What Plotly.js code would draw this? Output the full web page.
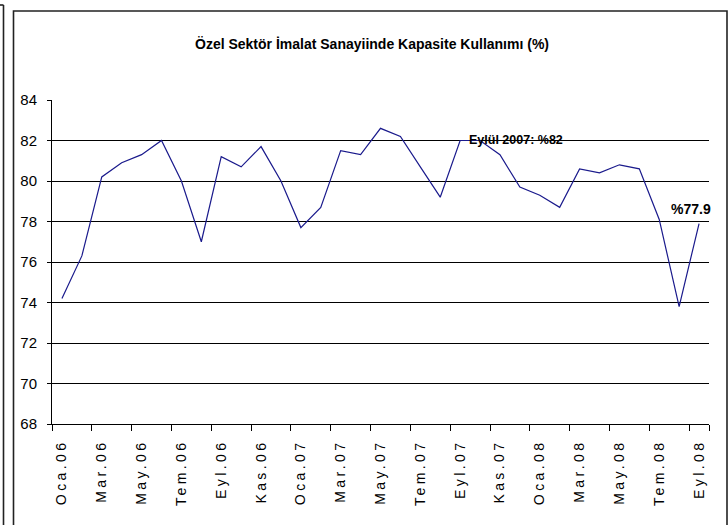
<!DOCTYPE html>
<html>
<head>
<meta charset="utf-8">
<script src="https://cdn.plot.ly/plotly-3.0.1.min.js"></script>
<style>
html,body{margin:0;padding:0;background:#fff;}
#chart{width:728px;height:525px;}
.xtick text{letter-spacing:3.4px;}
</style>
</head>
<body>
<div id="chart"></div>
<script>
const months = ["Oca.06","Şub.06","Mar.06","Nis.06","May.06","Haz.06","Tem.06","Ağu.06","Eyl.06","Eki.06","Kas.06","Ara.06",
"Oca.07","Şub.07","Mar.07","Nis.07","May.07","Haz.07","Tem.07","Ağu.07","Eyl.07","Eki.07","Kas.07","Ara.07",
"Oca.08","Şub.08","Mar.08","Nis.08","May.08","Haz.08","Tem.08","Ağu.08","Eyl.08"];
const capacity = [74.2,76.3,80.2,80.9,81.3,82.0,80.0,77.0,81.2,80.7,81.7,80.0,
77.7,78.7,81.5,81.3,82.6,82.2,80.7,79.2,82.0,82.0,81.3,79.7,
79.3,78.7,80.6,80.4,80.8,80.6,78.1,73.8,77.9];
const tickLabels = months.filter((m,i)=>i%2===0);
const titleText = "Özel Sektör İmalat Sanayiinde Kapasite Kullanımı (%)";
const noteSept07 = "Eylül 2007: %82";
const noteLast = "%77.9";

const W=728,H=525,L=52,R=19,T=100,B=101;
const pw=W-L-R, ph=H-T-B;
const px=(x)=>(x-L)/pw;
const py=(y)=>(H-B-y)/ph;
const font='"Liberation Sans", Arial, sans-serif';
const frameLine={color:'#222',width:1.6};

const data=[{
  type:'scatter',mode:'lines',x:months,y:capacity,
  line:{color:'#1a1a8c',width:1.2},hoverinfo:'x+y'
}];

const layout={
  width:W,height:H,
  margin:{l:L,r:R,t:T,b:B,pad:0},
  paper_bgcolor:'#fff',plot_bgcolor:'#fff',
  showlegend:false,
  title:{text:'<b>'+titleText+'</b>',x:(372)/W,xanchor:'center',y:1-44/H,yanchor:'middle',
    font:{family:font,size:14,color:'#000'}},
  xaxis:{type:'category',tickmode:'array',tickvals:tickLabels,ticktext:tickLabels,
    tickson:'boundaries',ticks:'outside',ticklen:6,tickcolor:'#000',tickwidth:1,
    tickangle:-90,ticklabelstandoff:9,
    showline:true,linecolor:'#000',linewidth:1,showgrid:false,zeroline:false,
    range:[-0.5,32.5],
    tickfont:{family:font,size:14,color:'#000'}},
  yaxis:{range:[68,84],tickmode:'linear',tick0:68,dtick:2,
    ticks:'outside',ticklen:4,tickcolor:'#000',tickwidth:1,ticklabelstandoff:7,
    showline:true,linecolor:'#000',linewidth:1,
    showgrid:true,gridcolor:'#000',gridwidth:1,zeroline:false,
    tickfont:{family:font,size:15,color:'#000'}},
  annotations:[
    {x:months[20],y:capacity[20],xref:'x',yref:'y',text:'<b>'+noteSept07+'</b>',showarrow:false,
     xanchor:'left',yanchor:'middle',xshift:7,yshift:1,font:{family:font,size:12.5,color:'#000'}},
    {x:months[32],y:capacity[32],xref:'x',yref:'y',text:'<b>'+noteLast+'</b>',showarrow:false,
     xanchor:'center',yanchor:'bottom',xshift:-8,yshift:5,font:{family:font,size:14,color:'#000'}}
  ],
  shapes:[
    {type:'rect',xref:'paper',yref:'paper',x0:px(13.5),x1:px(727),y0:py(11),y1:py(540),line:frameLine,fillcolor:'rgba(0,0,0,0)',layer:'above'},
    {type:'line',xref:'paper',yref:'paper',x0:px(3.5),x1:px(3.5),y0:py(5),y1:py(540),line:frameLine},
    {type:'line',xref:'paper',yref:'paper',x0:px(-5),x1:px(3.5),y0:py(5),y1:py(5),line:frameLine}
  ]
};

Plotly.newPlot('chart',data,layout,{displayModeBar:false,staticPlot:true});
</script>
</body>
</html>
